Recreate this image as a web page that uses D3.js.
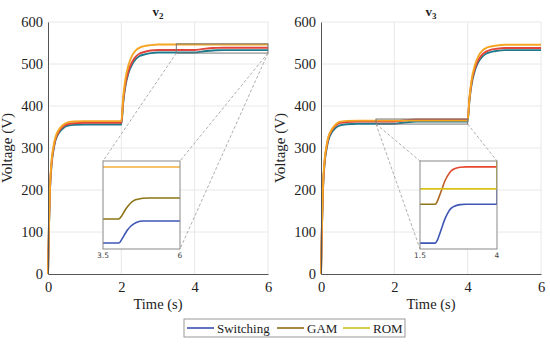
<!DOCTYPE html>
<html><head><meta charset="utf-8">
<script src="https://cdn.jsdelivr.net/npm/d3@7"></script>
<style>body{margin:0;background:#fff}svg{display:block}
.serif{font-family:"Liberation Serif","Times New Roman",serif}</style>
</head><body>
<svg id="c" width="550" height="344"></svg>
<script>
// ---- data ----
const T = [0,0.025,0.05,0.1,0.15,0.2,0.3,0.4,0.5,0.7,1.0,1.5,2.0,2.05,2.1,2.2,2.3,2.4,2.5,2.6,2.8,3.0,3.5,4.0,4.05,4.1,4.2,4.3,4.4,4.5,4.6,4.8,5.0,6.0];
const seriesNames = ["Switching","GAM","ROM"];
const v2Switching = [0,107,189,263,295,317,336,346,352,355,356,356,356,407,442,480,500,512,519,522,526,527.5,527.5,527.5,527.7,528.3,529.6,530.8,531.7,532.3,532.7,533,533,533];
const v2GAM = [0,108,191,266,299,320,340,350,356,359,360,360,360,412,447,485,506,518,525,528,532,533.5,533.5,533.5,533.7,534.2,535.5,536.6,537.5,538.1,538.4,538.7,538.75,538.75];
const v2ROM = [0,112,196,272,304,325,344,354,360,363,364,364,364,420,458,499,521,533,539,542,545,546.5,546.5,546.5,546.5,546.5,546.5,546.5,546.5,546.5,546.5,546.5,546.5,546.5];
const v3Switching = [0,107,190,265,297,318,338,348,353.5,356.7,357.8,357.8,357.8,358.1,358.6,359.8,361,361.9,362.5,362.8,363.05,363.1,363.1,363.1,414,448,485.5,505.8,517.7,524.5,527.9,531.3,533,533];
const v3GAM = [0,109,192,269,301,323,343,353,359,362,363.1,363.1,363.1,363.4,363.9,365,366.2,367,367.6,367.9,368.15,368.2,368.2,368.2,419,453,490.5,510.8,522.7,529.5,533,536.3,538,538];
const v3ROM = [0,113,197,273,305,326,345,356,362,364.5,365.2,365.2,365.2,365.2,365.2,365.2,365.2,365.2,365.2,365.2,365.2,365.2,365.2,365.2,420,458,498,520,532,538,541,544,546,546];
const xTicks = [0,2,4,6];
const yTicks = [0,100,200,300,400,500,600];
const insetV2 = {x:[3.5,6], y:[526,548]};
const insetV3 = {x:[1.5,4], y:[357,369]};

// ---- styles ----
const mainColors = {Switching:"#1f7a8c", GAM:"#e0463c", ROM:"#f5a623"};
const legendColors = {Switching:"#3a4db0", GAM:"#8b6a12", ROM:"#cfc21e"};
const serif = '"Liberation Serif","Times New Roman",serif';
const svg = d3.select("#c");

function panel(opts){
  const {x0,x1,y0,y1,title,data,inset,insetBox,insetColors,links,id} = opts;
  const x = d3.scaleLinear().domain([0,6]).range([x0,x1]);
  const y = d3.scaleLinear().domain([0,600]).range([y1,y0]);
  const g = svg.append("g");
  g.selectAll(".gx").data(xTicks.slice(1)).join("line")
    .attr("x1",d=>x(d)).attr("x2",d=>x(d)).attr("y1",y0).attr("y2",y1)
    .attr("stroke","#e8e8e8").attr("stroke-width",1);
  g.selectAll(".gy").data(yTicks.slice(1)).join("line")
    .attr("x1",x0).attr("x2",x1).attr("y1",d=>y(d)).attr("y2",d=>y(d))
    .attr("stroke","#e8e8e8").attr("stroke-width",1);
  const line = d3.line().x((d,i)=>x(T[i])).y(d=>y(d)).curve(d3.curveMonotoneX);
  seriesNames.forEach(n=>{
    g.append("path").attr("d",line(data[n])).attr("fill","none")
      .attr("stroke",mainColors[n]).attr("stroke-width",1.9);
  });
  const ax = g.append("g").attr("transform",`translate(0,${y1})`)
    .call(d3.axisBottom(x).tickValues(xTicks).tickSize(0).tickPadding(8).tickFormat(d3.format("d")));
  const ay = g.append("g").attr("transform",`translate(${x0},0)`)
    .call(d3.axisLeft(y).tickValues(yTicks).tickSize(0).tickPadding(5).tickFormat(d3.format("d")));
  [ax,ay].forEach(a=>{
    a.attr("font-family",null).attr("font-size",null).classed("serif",true);
    a.select(".domain").attr("stroke","#555").attr("stroke-width",1);
    a.selectAll("text").style("font-family",serif).style("font-size","14.5px").attr("fill","#222");
  });
  const t = g.append("text").attr("x",(x0+x1)/2).attr("y",16).attr("text-anchor","middle")
    .style("font-family",serif).style("font-size","13px").attr("font-weight","bold").attr("fill","#222");
  t.append("tspan").text(title[0]);
  t.append("tspan").attr("dy",3).style("font-size","9px").text(title[1]);
  g.append("text").attr("transform",`translate(${x0-36},${(y0+y1)/2}) rotate(-90)`)
    .attr("text-anchor","middle").style("font-family",serif).style("font-size","15px").attr("fill","#222")
    .text("Voltage (V)");
  g.append("text").attr("x",(x0+x1)/2).attr("y",309).attr("text-anchor","middle")
    .style("font-family",serif).style("font-size","14.5px").attr("fill","#222").text("Time (s)");
  const rx0=x(inset.x[0]), rx1=x(inset.x[1]), ry0=y(inset.y[1]), ry1=y(inset.y[0]);
  g.append("rect").attr("x",rx0).attr("y",ry0).attr("width",rx1-rx0).attr("height",ry1-ry0)
    .attr("fill","none").attr("stroke","#777").attr("stroke-width",1);
  const [bx0,by0,bx1,by1] = insetBox;
  const corners = {rBL:[rx0,ry1],rBR:[rx1,ry1],rTL:[rx0,ry0],rTR:[rx1,ry0],
                   iTL:[bx0,by0],iTR:[bx1,by0],iBL:[bx0,by1],iBR:[bx1,by1]};
  links.forEach(([a,b])=>{
    g.append("line").attr("x1",corners[a][0]).attr("y1",corners[a][1])
      .attr("x2",corners[b][0]).attr("y2",corners[b][1])
      .attr("stroke","#999").attr("stroke-width",0.8).attr("stroke-dasharray","3,2");
  });
  const ix = d3.scaleLinear().domain(inset.x).range([bx0,bx1]);
  const iy = d3.scaleLinear().domain(inset.y).range([by1,by0]);
  g.append("rect").attr("x",bx0).attr("y",by0).attr("width",bx1-bx0).attr("height",by1-by0)
    .attr("fill","#fff");
  svg.append("clipPath").attr("id","clip"+id).append("rect")
    .attr("x",bx0).attr("y",by0).attr("width",bx1-bx0).attr("height",by1-by0);
  const ig = g.append("g").attr("clip-path",`url(#clip${id})`);
  const iline = d3.line().x((d,i)=>ix(T[i])).y(d=>iy(d)).curve(d3.curveMonotoneX);
  seriesNames.forEach(n=>{
    ig.append("path").attr("d",iline(data[n])).attr("fill","none")
      .attr("stroke",insetColors[n]).attr("stroke-width",1.6);
  });
  g.append("rect").attr("x",bx0).attr("y",by0).attr("width",bx1-bx0).attr("height",by1-by0)
    .attr("fill","none").attr("stroke","#888").attr("stroke-width",1);
  g.selectAll(".itk").data(inset.x).join("text")
    .attr("x",d=>ix(d)).attr("y",by1+9).attr("text-anchor","middle")
    .style("font-family",'"DejaVu Sans",sans-serif').style("font-size","7.5px").attr("fill","#444")
    .text(d=>d);
}

const defs = svg.append("defs");
const grad = defs.append("linearGradient").attr("id","gamGrad")
  .attr("gradientUnits","userSpaceOnUse").attr("x1",432).attr("x2",452).attr("y1",0).attr("y2",0);
grad.append("stop").attr("offset","0").attr("stop-color","#8c7516");
grad.append("stop").attr("offset","1").attr("stop-color","#e5482e");

panel({x0:48,x1:268,y0:22,y1:274,title:["v","2"],id:2,
  data:{Switching:v2Switching,GAM:v2GAM,ROM:v2ROM},
  inset:insetV2, insetBox:[103,161,180,249],
  insetColors:{Switching:"#3f56b5",GAM:"#8c7516",ROM:"#f5ac3a"},
  links:[["rBL","iTL"],["rBR","iTR"],["rBR","iBR"]]});
panel({x0:321,x1:541,y0:22,y1:274,title:["v","3"],id:3,
  data:{Switching:v3Switching,GAM:v3GAM,ROM:v3ROM},
  inset:insetV3, insetBox:[420,161,497,249],
  insetColors:{Switching:"#3f56b5",GAM:"url(#gamGrad)",ROM:"#d9c21a"},
  links:[["rBL","iTL"],["rBL","iBL"],["rBR","iTR"]]});

const lg = svg.append("g");
lg.append("rect").attr("x",184).attr("y",319).attr("width",221).attr("height",18)
  .attr("fill","#fff").attr("stroke","#999").attr("stroke-width",1);
const legX = [187,277,343];
seriesNames.forEach((n,i)=>{
  lg.append("line").attr("x1",legX[i]).attr("x2",legX[i]+27).attr("y1",328).attr("y2",328)
    .attr("stroke",legendColors[n]).attr("stroke-width",1.6);
  lg.append("text").attr("x",legX[i]+30).attr("y",332.5).style("font-family",serif)
    .style("font-size","13px").attr("fill","#222").text(n);
});
</script>
</body></html>
